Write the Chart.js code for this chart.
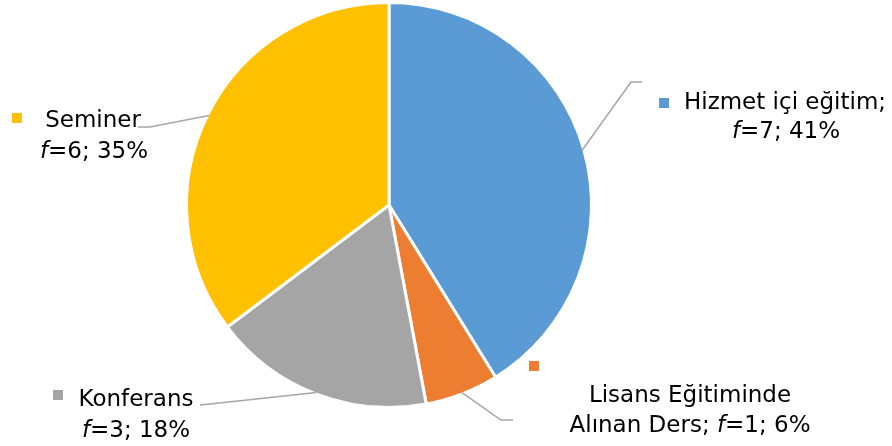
<!DOCTYPE html>
<html>
<head>
<meta charset="utf-8">
<script src="https://cdn.jsdelivr.net/npm/chart.js@4.4.1/dist/chart.umd.min.js"></script>
<style>
html,body{margin:0;padding:0;background:#fff;}
#wrap{width:892px;height:446px;position:relative;}
</style>
</head>
<body>
<div id="wrap"><canvas id="c" width="892" height="446"></canvas></div>
<script>
// ---- data ----
const categories = ["Hizmet içi eğitim", "Lisans Eğitiminde Alınan Ders", "Konferans", "Seminer"];
const frequencies = [7, 1, 3, 6];
const colors = ["#5B9BD5", "#ED7D31", "#A5A5A5", "#FFC000"];
// label text lines (line 1 name part, line 2 prefix before f=)
const labelLine1 = ["Hizmet içi eğitim;", "Lisans Eğitiminde", "Konferans", "Seminer"];
const labelLine2Prefix = ["", "Alınan Ders; ", "", ""];

// ---- label layout (positions only) ----
const labelLayout = [
  {marker:[659,98], l1:[785,109], l2:[786,138], elbow:[631,82], end:[642,82]},
  {marker:[529,361], l1:[690,402], l2:[690,432], elbow:[501,420], end:[513,420]},
  {marker:[53,390], l1:[136,406], l2:[136,437], elbow:[210,404], end:[200,405]},
  {marker:[12,113], l1:[93,127], l2:[94,158], elbow:[150,127], end:[138,127]}
];

const FONT = '"DejaVu Sans", Verdana, sans-serif';
const FS = 23;

const total = frequencies.reduce((a,b)=>a+b,0);

const labelPlugin = {
  id: 'labelPlugin',
  afterDraw(chart) {
    const ctx = chart.ctx;
    const meta = chart.getDatasetMeta(0);
    meta.data.forEach((arc, i) => {
      const p = arc.getProps(['x','y','startAngle','endAngle','outerRadius'], true);
      const mid = (p.startAngle + p.endAngle) / 2;
      const r = p.outerRadius - 1.5;
      const ax = p.x + Math.cos(mid) * r;
      const ay = p.y + Math.sin(mid) * r;
      const L = labelLayout[i];
      // leader line
      ctx.save();
      ctx.strokeStyle = '#A6A6A6';
      ctx.lineWidth = 1.5;
      ctx.beginPath();
      ctx.moveTo(ax, ay);
      ctx.lineTo(L.elbow[0], L.elbow[1]);
      ctx.lineTo(L.end[0], L.end[1]);
      ctx.stroke();
      // marker
      ctx.fillStyle = colors[i];
      ctx.fillRect(L.marker[0], L.marker[1], 10, 10);
      // text line 1
      ctx.fillStyle = '#000';
      ctx.textBaseline = 'alphabetic';
      ctx.textAlign = 'center';
      ctx.font = FS + 'px ' + FONT;
      ctx.fillText(labelLine1[i], L.l1[0], L.l1[1]);
      // text line 2 with italic f
      const pct = Math.round(frequencies[i] / total * 100);
      const parts = [
        {t: labelLine2Prefix[i], f: FS + 'px ' + FONT},
        {t: 'f', f: 'italic ' + FS + 'px ' + FONT},
        {t: '=' + frequencies[i] + '; ' + pct + '%', f: FS + 'px ' + FONT}
      ];
      let w = 0;
      parts.forEach(pt => { ctx.font = pt.f; pt.w = ctx.measureText(pt.t).width; w += pt.w; });
      let x = L.l2[0] - w / 2;
      ctx.textAlign = 'left';
      parts.forEach(pt => { ctx.font = pt.f; ctx.fillText(pt.t, x, L.l2[1]); x += pt.w; });
      ctx.restore();
    });
  }
};

new Chart(document.getElementById('c'), {
  type: 'pie',
  data: {
    labels: categories,
    datasets: [{
      data: frequencies,
      backgroundColor: colors,
      borderColor: '#fff',
      borderWidth: 3,
      hoverOffset: 0
    }]
  },
  options: {
    responsive: false,
    animation: false,
    layout: { padding: { left: 185, right: 299, top: 1, bottom: 37 } },
    plugins: {
      legend: { display: false },
      tooltip: { enabled: false }
    },
    events: []
  },
  plugins: [labelPlugin]
});
</script>
</body>
</html>
